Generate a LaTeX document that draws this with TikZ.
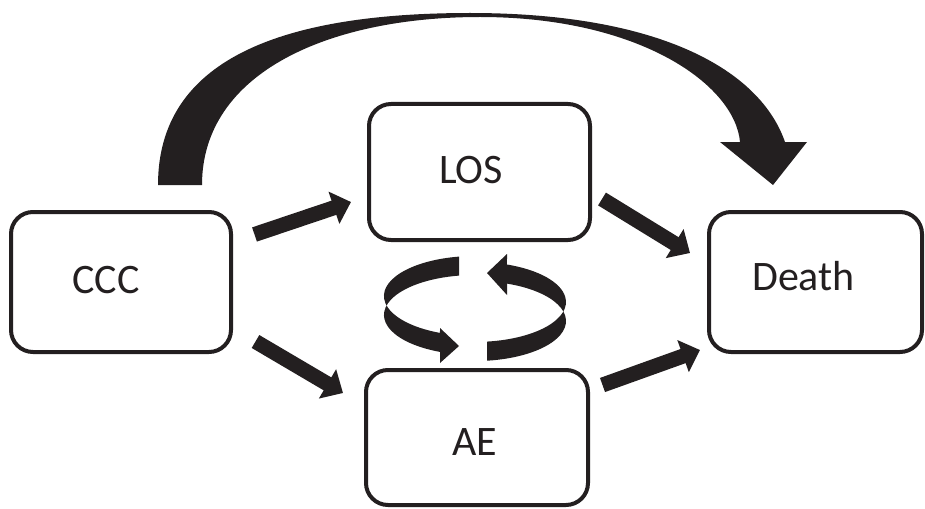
\documentclass[tikz,border=0pt]{standalone}
\usepackage{fontspec}
\setmainfont{Carlito}
\usetikzlibrary{arrows.meta}
\definecolor{ink}{HTML}{231F20}
\begin{document}
\begin{tikzpicture}[x=1pt,y=-1pt,
  box/.style={draw=ink,line width=4pt,rounded corners=22pt,inner sep=0pt,fill=white},
  lbl/.style={anchor=base,inner sep=0pt,text=ink,font=\fontsize{42}{50}\selectfont},
  blk/.style={draw=ink,line width=15pt,-{Triangle[width=33pt,length=18pt]}}]
\useasboundingbox (0,0) rectangle (925,508);
% boxes
\node[box,minimum width=220pt,minimum height=140pt] (CCC) at (121,282) {};
\node[box,minimum width=221pt,minimum height=136pt] (LOS) at (479.5,172) {};
\node[box,minimum width=222pt,minimum height=135pt] (AE) at (477,437.5) {};
\node[box,minimum width=213pt,minimum height=140pt] (Death) at (815.5,282) {};
% labels
\node[lbl] (tCCC) at ([shift={(-15,11)}]CCC.center) {CCC};
\node[lbl] (tLOS) at ([shift={(-8.5,11)}]LOS.center) {LOS};
\node[lbl] (tAE) at ([shift={(-2,17.5)}]AE.center) {AE};
\node[lbl] (tDeath) at ([shift={(-12,8)}]Death.center) {Death};
% straight block arrows
\draw[blk] ([shift={(21.5,-47.5)}]CCC.east) -- ([shift={(-16,30)}]LOS.west);
\draw[blk] ([shift={(22.5,59.5)}]CCC.east) -- ([shift={(-21,-44.5)}]AE.west);
\draw[blk] ([shift={(10,27)}]LOS.east) -- ([shift={(-17,-29)}]Death.west);
\draw[blk] ([shift={(12.5,-52.5)}]AE.east) -- ([shift={(-7,68)}]Death.west);
% big curved arrow CCC -> Death
\fill[ink] (158,185) .. controls (158,60) and (280,13) .. (470,13)
  .. controls (660,13) and (760,70) .. (785,142)
  -- (807,142) -- (773,185) -- (720,142) -- (740,142)
  .. controls (735,85) and (640,17) .. (480,17)
  .. controls (330,17) and (202,72) .. (202,185) -- cycle;
% circular arrows
\fill[ink] (459,256.6)
  arc[start angle=259.9,end angle=112.6,x radius=91,y radius=40]
  -- (440,328) -- (459,346) -- (440,363) -- (440,351.9)
  arc[start angle=112.6,end angle=259.9,x radius=91,y radius=40]
  -- cycle;
\fill[ink] (487,341.6)
  arc[start angle=82.4,end angle=-69.4,x radius=91,y radius=40]
  -- (507,254) -- (487,273) -- (507,295) -- (507,283.6)
  arc[start angle=-69.4,end angle=82.4,x radius=91,y radius=40]
  -- cycle;
\end{tikzpicture}
\end{document}
